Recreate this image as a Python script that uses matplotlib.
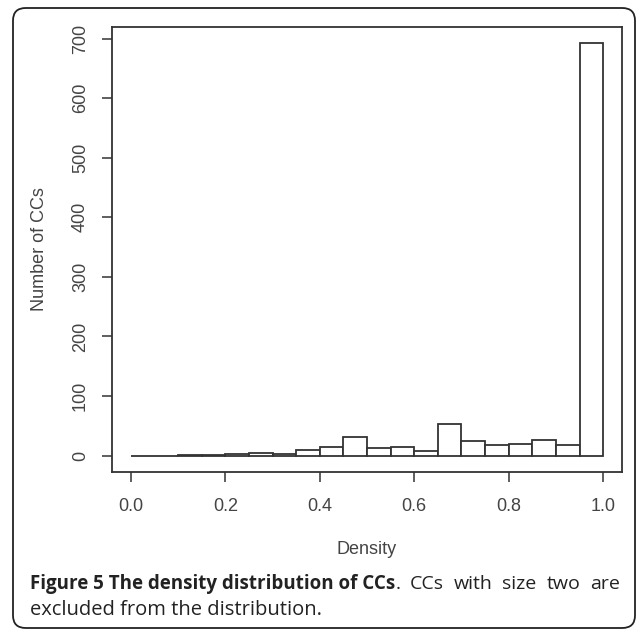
import matplotlib
matplotlib.use("Agg")
from matplotlib import pyplot as plt
from matplotlib.patches import FancyBboxPatch
import numpy as np

# histogram of CC density, bins of width 0.05
bin_edges = np.linspace(0.0, 1.0, 21)
counts = [0, 0, 1, 1, 3, 5, 3, 9, 14, 31, 13, 14, 7, 53, 24, 18, 20, 26, 18, 692]
x_ticks = [0.0, 0.2, 0.4, 0.6, 0.8, 1.0]
y_ticks = [0, 100, 200, 300, 400, 500, 600, 700]

caption_bold = "Figure 5 The density distribution of CCs"
caption_rest = [".", "CCs", "with", "size", "two", "are"]
caption_line2 = "excluded from the distribution."

line_col = "#333333"
text_col = "#444444"
cap_col = "#222222"

plt.rcParams["font.family"] = ["Liberation Sans", "DejaVu Sans"]

fig = plt.figure(figsize=(6.37, 6.30), dpi=100)
ax = fig.add_axes([112 / 637, 1 - 472 / 630, 510 / 637, 445 / 630])

ax.bar(bin_edges[:-1], counts, width=np.diff(bin_edges), align="edge",
       facecolor="white", edgecolor=line_col, linewidth=1.3)

xmax, ymax = 1.0, max(counts)
ax.set_xlim(-0.04 * xmax, 1.04 * xmax)
ax.set_ylim(-0.04 * ymax, 1.04 * ymax)

ax.set_xticks(x_ticks)
ax.set_xticklabels([f"{t:.1f}" for t in x_ticks])
ax.set_yticks(y_ticks)
ax.set_yticklabels([str(t) for t in y_ticks], rotation=90, va="center")
ax.tick_params(direction="out", length=7.5, width=1.1, color=line_col,
               labelcolor=text_col, labelsize=13, pad=11)
ax.tick_params(axis="y", pad=9)
for s in ax.spines.values():
    s.set_color(line_col)
    s.set_linewidth(1.3)

ax.set_xlabel("Density", fontsize=13, color=text_col, labelpad=19)
ax.set_ylabel("Number of CCs", fontsize=13, color=text_col, labelpad=17)

# outer rounded frame
frame = FancyBboxPatch((13 / 637, 2 / 630), 622 / 637, 620 / 630,
                       boxstyle="round,pad=0,rounding_size=0.02",
                       transform=fig.transFigure, facecolor="none",
                       edgecolor="#222222", linewidth=1.3, clip_on=False)
fig.patches.append(frame)

# caption, first line justified between x=30 and x=620 px
cap_font = dict(family="Open Sans", color=cap_col, va="center")
y1 = 1 - 584 / 630
bold = fig.text(30 / 637, y1, caption_bold, fontweight="bold", fontsize=13.5, **cap_font)
words = [fig.text(0, y1, w, fontsize=14, **cap_font) for w in caption_rest]
fig.canvas.draw()
r = fig.canvas.get_renderer()
bold_end = bold.get_window_extent(r).x1
widths = [w.get_window_extent(r).width for w in words]
gap = (620 - bold_end - sum(widths)) / (len(words) - 1)
x = bold_end
for i, w in enumerate(words):
    w.set_x(x / 637)
    x += widths[i] + gap
fig.text(30 / 637, 1 - 610 / 630, caption_line2, fontsize=14.5, **cap_font)

fig.savefig("out.png", dpi=100)
